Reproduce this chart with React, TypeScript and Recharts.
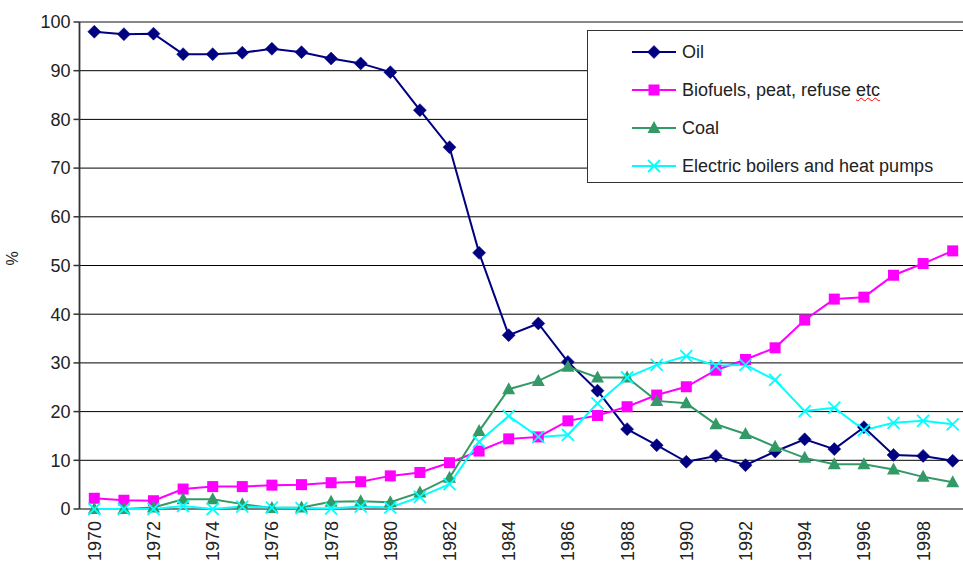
import React from 'react';
import { LineChart, Line, XAxis, YAxis, CartesianGrid, Legend, ReferenceLine } from 'recharts';

const years = [1970, 1971, 1972, 1973, 1974, 1975, 1976, 1977, 1978, 1979, 1980, 1981, 1982, 1983, 1984, 1985, 1986, 1987, 1988, 1989, 1990, 1991, 1992, 1993, 1994, 1995, 1996, 1997, 1998, 1999];
const oil = [98.0, 97.5, 97.6, 93.4, 93.4, 93.7, 94.5, 93.8, 92.5, 91.5, 89.7, 81.9, 74.3, 52.6, 35.7, 38.1, 30.2, 24.3, 16.4, 13.1, 9.7, 10.9, 9.0, 11.8, 14.3, 12.3, 16.8, 11.1, 10.9, 9.9];
const biofuels = [2.2, 1.8, 1.7, 4.1, 4.6, 4.6, 4.9, 5.0, 5.4, 5.6, 6.8, 7.5, 9.5, 11.9, 14.4, 14.8, 18.1, 19.2, 21.0, 23.4, 25.1, 28.5, 30.7, 33.1, 38.8, 43.1, 43.5, 48.0, 50.4, 53.0];
const coal = [0.0, 0.0, 0.3, 2.0, 2.0, 1.0, 0.2, 0.3, 1.5, 1.6, 1.4, 3.4, 6.4, 16.0, 24.6, 26.3, 29.2, 27.0, 27.0, 22.2, 21.7, 17.4, 15.4, 12.8, 10.5, 9.2, 9.2, 8.1, 6.6, 5.5];
const electric = [0.0, 0.0, 0.0, 0.6, 0.0, 0.5, 0.3, 0.2, 0.1, 0.5, 0.3, 2.5, 5.1, 13.8, 19.1, 14.8, 15.2, 21.7, 27.0, 29.6, 31.4, 29.4, 29.6, 26.5, 20.1, 20.8, 16.2, 17.7, 18.1, 17.4];
const seriesNames = ['Oil', 'Biofuels, peat, refuse etc', 'Coal', 'Electric boilers and heat pumps'];
const yTicks = [0, 10, 20, 30, 40, 50, 60, 70, 80, 90, 100];
const xLabelYears = [1970, 1972, 1974, 1976, 1978, 1980, 1982, 1984, 1986, 1988, 1990, 1992, 1994, 1996, 1998];

const data = years.map((year, i) => ({
  year,
  oil: oil[i],
  biofuels: biofuels[i],
  coal: coal[i],
  electric: electric[i],
}));
const boundaryTicks = [...years.map((y) => y - 0.5), years[years.length - 1] + 0.5];
const domain: [number, number] = [years[0] - 0.5, years[years.length - 1] + 0.5];

const COLORS = {
  oil: '#000080',
  biofuels: '#FF00FF',
  coal: '#339966',
  electric: '#00FFFF',
};

const FONT = '"Liberation Sans", Arial, sans-serif';

function Marker({ kind, cx, cy, color }: { kind: string; cx: number; cy: number; color: string }) {
  if (kind === 'diamond') {
    const r = 6.5;
    return <polygon points={`${cx},${cy - r} ${cx + r},${cy} ${cx},${cy + r} ${cx - r},${cy}`} fill={color} stroke={color} strokeWidth={0.5} />;
  }
  if (kind === 'square') {
    const r = 5.5;
    return <rect x={cx - r} y={cy - r} width={2 * r} height={2 * r} fill={color} />;
  }
  if (kind === 'triangle') {
    return <polygon points={`${cx},${cy - 7} ${cx + 6.5},${cy + 5} ${cx - 6.5},${cy + 5}`} fill={color} />;
  }
  const r = 6;
  return (
    <g>
      <line x1={cx - r} y1={cy - r} x2={cx + r} y2={cy + r} stroke={color} strokeWidth={1.8} />
      <line x1={cx - r} y1={cy + r} x2={cx + r} y2={cy - r} stroke={color} strokeWidth={1.8} />
    </g>
  );
}

const makeDot = (kind: string, color: string) => (props: any) => {
  const { cx, cy, index } = props;
  if (cx == null || cy == null) return <g key={`${kind}-${index}`} />;
  return (
    <g key={`${kind}-${index}`}>
      <Marker kind={kind} cx={cx} cy={cy} color={color} />
    </g>
  );
};

const legendDefs = [
  { name: seriesNames[0], color: COLORS.oil, kind: 'diamond' },
  { name: seriesNames[1], color: COLORS.biofuels, kind: 'square' },
  { name: seriesNames[2], color: COLORS.coal, kind: 'triangle' },
  { name: seriesNames[3], color: COLORS.electric, kind: 'x' },
];

function renderLegend() {
  return (
    <div
      style={{
        position: 'relative',
        width: 400,
        height: 153,
        border: '1.5px solid #333',
        background: '#fff',
        boxSizing: 'border-box',
        fontFamily: FONT,
        fontSize: 18,
        color: '#222',
      }}
    >
      {legendDefs.map((d, i) => {
        const label = d.name.endsWith(' etc') ? (
          <span>
            {d.name.slice(0, -3)}
            <span style={{ textDecoration: 'underline wavy red', textDecorationThickness: 1 }}>etc</span>
          </span>
        ) : (
          d.name
        );
        return (
          <div key={d.name} style={{ position: 'absolute', left: 44, top: 11 + i * 37.9, height: 20, display: 'flex', alignItems: 'center', whiteSpace: 'nowrap' }}>
            <svg width={46} height={20} style={{ display: 'block' }}>
              <line x1={0} y1={10} x2={44} y2={10} stroke={d.color} strokeWidth={2} />
              <Marker kind={d.kind} cx={22} cy={10} color={d.color} />
            </svg>
            <span style={{ marginLeft: 4, lineHeight: '20px' }}>{label}</span>
          </div>
        );
      })}
    </div>
  );
}

const YearTick = (props: any) => {
  const { x, y, payload } = props;
  return (
    <text
      x={x}
      y={y + 12}
      transform={`rotate(-90, ${x}, ${y + 12})`}
      textAnchor="end"
      dy="0.36em"
      fill="#222"
      fontSize={18}
      fontFamily={FONT}
    >
      {payload.value}
    </text>
  );
};

export default function App() {
  return (
    <div style={{ position: 'fixed', left: 0, top: 0, width: 963, height: 561, overflow: 'hidden', background: '#fff' }}>
      <LineChart width={980} height={561} data={data} margin={{ top: 22, right: 12.5, bottom: 0, left: 0 }}>
        <CartesianGrid horizontal vertical={false} stroke="#000" strokeWidth={1} />
        <XAxis
          xAxisId="b"
          dataKey="year"
          type="number"
          domain={domain}
          ticks={boundaryTicks}
          tick={false}
          tickSize={6}
          height={0}
          axisLine={{ stroke: '#333', strokeWidth: 1.5 }}
          tickLine={{ stroke: '#333', strokeWidth: 1.5 }}
          allowDataOverflow
        />
        <XAxis
          dataKey="year"
          type="number"
          domain={domain}
          ticks={xLabelYears}
          tick={<YearTick />}
          tickSize={0}
          tickMargin={0}
          height={52}
          axisLine={false}
          tickLine={false}
          interval={0}
          allowDataOverflow
        />
        <YAxis
          type="number"
          domain={[0, 100]}
          ticks={yTicks}
          width={79.5}
          tickSize={6}
          tickMargin={3}
          interval={0}
          axisLine={{ stroke: '#333', strokeWidth: 1.8 }}
          tickLine={{ stroke: '#333', strokeWidth: 1.5 }}
          tick={{ fill: '#222', fontSize: 18, fontFamily: FONT }}
          label={{ value: '%', angle: -90, position: 'insideLeft', offset: 12, fill: '#222', fontSize: 16, fontFamily: FONT }}
        />
        <ReferenceLine y={100} stroke="#888" strokeWidth={2} />
        <Legend
          layout="horizontal"
          verticalAlign="middle"
          align="center"
          content={renderLegend}
          wrapperStyle={{ left: 587, top: 30, width: 400, height: 153 }}
        />
        <Line type="linear" dataKey="oil" name={seriesNames[0]} stroke={COLORS.oil} strokeWidth={2} dot={makeDot('diamond', COLORS.oil)} isAnimationActive={false} />
        <Line type="linear" dataKey="biofuels" name={seriesNames[1]} stroke={COLORS.biofuels} strokeWidth={2} dot={makeDot('square', COLORS.biofuels)} isAnimationActive={false} />
        <Line type="linear" dataKey="coal" name={seriesNames[2]} stroke={COLORS.coal} strokeWidth={2} dot={makeDot('triangle', COLORS.coal)} isAnimationActive={false} />
        <Line type="linear" dataKey="electric" name={seriesNames[3]} stroke={COLORS.electric} strokeWidth={2} dot={makeDot('x', COLORS.electric)} isAnimationActive={false} />
      </LineChart>
    </div>
  );
}
